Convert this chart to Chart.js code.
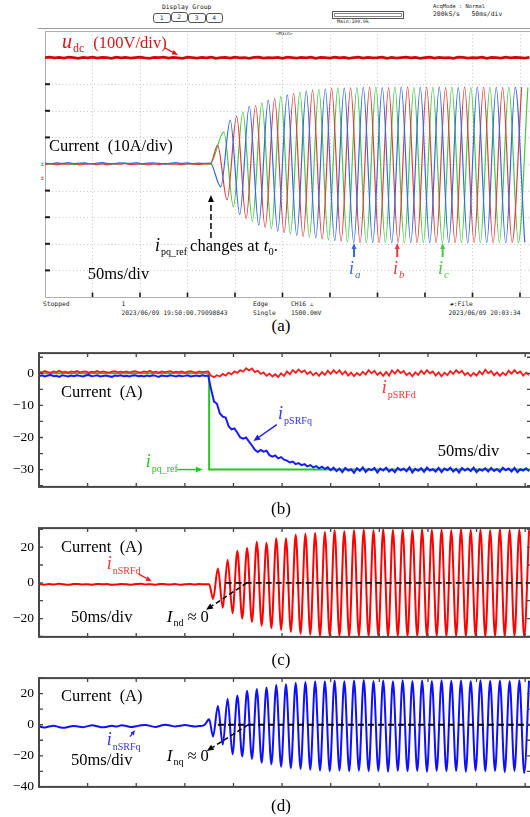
<!DOCTYPE html>
<html>
<head>
<meta charset="utf-8">
<title>Current transient</title>
<script src="https://cdn.jsdelivr.net/npm/chart.js@4.4.1/dist/chart.umd.min.js"></script>
<style>
  body { margin: 0; background: #fff; }
  #page { position: relative; width: 530px; height: 817px; overflow: hidden; background: #fff; }
  #page canvas { position: absolute; left: 0; }
  .m { position: absolute; font-family: "DejaVu Sans Mono", monospace; font-size: 6.3px; line-height: 1; color: #222; white-space: pre; }
  .btn { position: absolute; top: 12.7px; width: 15.5px; height: 8px; border: 1px solid #555; border-radius: 3px;
         font-family: "DejaVu Sans Mono", monospace; font-size: 6.3px; line-height: 8px; text-align: center; color: #235; }
  .cap { position: absolute; left: 0; width: 562px; text-align: center; font-family: "Liberation Serif", serif; font-size: 17px; line-height: 17px; }
</style>
</head>
<body>
<div id="page">
  <!-- 示波器顶部信息 -->
  <div class="m" style="left:162px;top:4px">Display Group</div>
  <div class="btn" style="left:153px">1</div>
  <div class="btn" style="left:170.5px;border-width:1.6px;top:12.1px">2</div>
  <div class="btn" style="left:188px">3</div>
  <div class="btn" style="left:205.5px">4</div>
  <div style="position:absolute;left:332px;top:10.7px;width:70px;height:6px;border:1px solid #555;">
    <div style="margin:1px;height:2px;border:1px solid #888"></div>
  </div>
  <div class="m" style="left:337px;top:19.5px;font-size:4.8px">Main:100.0k</div>
  <div class="m" style="left:433px;top:4px;font-size:5.4px">AcqMode : Normal</div>
  <div class="m" style="left:433px;top:10.5px;font-size:6.4px">200kS/s   50ms/div</div>
  <div style="position:absolute;left:38px;top:28px;width:492px;height:1px;background:#9a9a9a"></div>
  <div class="m" style="left:276px;top:32px;font-size:4.6px">&lt;Main&gt;</div>

  <canvas id="cA" width="540" height="300" style="top:0"></canvas>

  <!-- 示波器底部信息 -->
  <div class="m" style="left:43px;top:300.5px">Stopped</div>
  <div class="m" style="left:121.5px;top:300.5px">1</div>
  <div class="m" style="left:121.5px;top:309.5px">2023/06/09 19:50:00.79098843</div>
  <div class="m" style="left:253px;top:300.5px">Edge</div>
  <div class="m" style="left:253px;top:309.5px">Single</div>
  <div class="m" style="left:291px;top:300.5px">CH16 ⥿</div>
  <div class="m" style="left:291px;top:309.5px">1500.0mV</div>
  <div class="m" style="left:450px;top:300.5px">▰:File</div>
  <div class="m" style="left:448.5px;top:309.5px">2023/06/09 20:03:34</div>
  <div class="cap" style="top:316.5px">(a)</div>

  <canvas id="cB" width="540" height="160" style="top:340px"></canvas>
  <div class="cap" style="top:499.5px">(b)</div>
  <canvas id="cC" width="540" height="135" style="top:515px"></canvas>
  <div class="cap" style="top:650.5px">(c)</div>
  <canvas id="cD" width="540" height="135" style="top:665px"></canvas>
  <div class="cap" style="top:796.5px">(d)</div>
</div>

<script>
// ---------- 数据 (时间 ms) ----------

// (a) 示波器: 三相电流 (A, 10A/div), 直流电压 (V, 100V/div)
const iaPre = [0.3,0.1,0.4,0.2,0.5,0.1,0.3,0.4,0.0,0.3,0.5,0.2,0.1,0.4,0.3,0.2,0.5,0.1,0.3,0.4,0.2,0.0,0.3,0.5,0.2,0.4,0.1,0.3,0.2,0.3];
const ibPre = [-0.2,0.1,-0.3,0.0,-0.1,0.2,-0.3,-0.1,0.1,-0.2,0.0,-0.3,0.1,-0.1,0.2,-0.2,-0.1,0.1,-0.3,0.0,-0.2,0.2,-0.1,0.0,-0.3,0.1,-0.1,-0.2,0.1,0.0];
const icPre = [0.1,-0.1,0.2,0.0,0.1,-0.2,0.0,0.2,0.1,-0.1,0.2,0.0,-0.1,0.1,0.2,0.0,0.1,-0.2,0.1,0.0,0.2,-0.1,0.1,0.0,0.1,-0.1,0.2,0.1,0.0,0.1];
// 阶跃后的波峰/波谷, 每半个周期 (10 ms) 一个
const iaExt = [-8.6,16.5,-19,21.8,-23,24,-25.2,26,-26.8,27.4,-27.8,28.2,-28.8,28.5,-29.6,28.8,-29.5,28.7,-29.6,28.9,-29.5,28.8,-29.6,28.9,-29.5,28.7,-29.6,28.9,-29.5,28.8,-29.6,28.9,-29.5];
const ibExt = [7,-13.5,18,-20.5,22,-23.8,24.5,-25.8,26.5,-27.2,27.8,-28.2,28.4,-29,28.6,-29.5,28.8,-29.6,28.7,-29.5,28.9,-29.6,28.8,-29.5,28.7,-29.6,28.9,-29.5,28.8,-29.6,28.7,-29.5,28.9];
const icExt = [12,-16,19.5,-21.5,23,-24.3,25.3,-26.3,27,-27.5,28,-28.5,28.6,-29.3,28.7,-29.6,28.8,-29.5,28.9,-29.6,28.7,-29.5,28.8,-29.6,28.9,-29.5,28.7,-29.6,28.8,-29.5,28.9,-29.6,28.8];
const udc = [400,402,399,401,398,402,400,397,401,399,402,398,401,400,397,402,399,401,398,400,402,399,397,401,400,402,398,401,399,397,
             402,400,398,401,399,402,397,400,401,398,402,399,400,397,401,402,398,400,399,401,397,402,400,398,401,399,402,397,401,400,
             398,402,399,401,397,400,402,398,401,399,400,402,397,401,398,400,402,399,401,397,400,402,398,401,399,400,397,402,401,398,
             400,399,402,397,401,400,398,402,399,401,400,398,401];

// (b) 正序 dq 电流 (A)
const pdPre = [0.5,0.3,0.7,0.4,0.2,0.6,0.4,0.8,0.3,0.5,0.2,0.6,0.4,0.7,0.3,0.5,0.6,0.2,0.5,0.4,0.7,0.3,0.6,0.4,0.2,0.5,0.7,0.3,0.5,0.4,
               0.6,0.2,0.5,0.7,0.4,0.3,0.6,0.4,0.8,0.3,0.5,0.2,0.6,0.4,0.5,0.7,0.3,0.5,0.4,0.6,0.2,0.5,0.7,0.4,0.3,0.6,0.4,0.5,0.6];
const pdPost = [-0.8,-1.2,-0.6,-1.0,-0.2,-0.7,0.2,-0.3,0.6,0.1,1.0,0.5,1.6,0.9,1.5,0.4,0.8,-0.2,0.3,-0.8,-0.1,-1.0,-0.3,-1.2,0.0,-0.8,0.6,-0.3,1.0,0.2,
                1.2,0.3,0.9,-0.2,0.5,-0.6,0.2,-0.8,0.4,-0.5,0.8,-0.2,1.0,0.0,0.9,-0.3,0.6,-0.7,0.2,-0.9,0.1,-0.6,0.5,-0.4,1.0,0.0,0.8,-0.5,0.3,-0.8,
                0.4,-0.7,0.9,-0.1,1.1,0.1,0.7,-0.6,0.2,-0.9,0.3,-0.5,0.8,-0.2,1.0,0.0,0.6,-0.7,0.3,-0.9,0.2,-0.6,0.7,-0.2,1.0,0.1,0.8,-0.5,0.2,-0.9,
                0.1,-0.7,0.6,-0.3,1.1,0.0,0.7,-0.6,0.3,-0.8,0.2,-0.6,0.8,-0.1,1.0,0.0,0.6,-0.7,0.2,-0.5];
const pqPre = [-0.9,-0.6,-1.0,-0.7,-0.5,-0.9,-0.8,-1.1,-0.6,-0.8,-1.0,-0.7,-0.9,-0.6,-0.8,-1.0,-0.7,-0.5,-0.9,-0.8,-0.6,-1.0,-0.8,-0.7,-0.9,-1.1,-0.7,-0.8,-0.6,-0.9,
               -0.8,-1.0,-0.7,-0.6,-0.9,-0.8,-1.0,-0.7,-0.9,-0.6,-0.8,-1.1,-0.7,-0.8,-0.9,-0.6,-0.8,-1.0,-0.7,-0.9,-0.8,-0.6,-1.0,-0.8,-0.7,-0.9,-0.6,-0.8,-0.7];
const pqPost = [-5.0,-8.8,-9.5,-12.5,-13.5,-13.8,-16.5,-17.5,-17.2,-18.5,-20.0,-20.4,-20.0,-21.3,-22.5,-23.8,-24.5,-23.9,-24.4,-24.1,
                -25.5,-26.0,-25.6,-26.5,-26.1,-26.9,-27.2,-27.8,-27.5,-28.3,-28.0,-28.6,-28.3,-29.0,-28.6,-29.3,-28.9,-29.6,-29.1,-29.8,-29.3,-30.2,
                -29.4,-30.5,-29.7,-30.8,-29.5,-30.3,-29.9,-31.0,-29.6,-30.4,-29.3,-30.7,-29.8,-30.2,-29.5,-30.9,-29.7,-30.3,-29.4,-30.6,-29.9,-30.8,
                -29.5,-30.2,-29.7,-30.5,-29.3,-30.9,-29.8,-30.4,-29.6,-30.7,-29.4,-30.3,-29.9,-30.6,-29.5,-30.8,-29.7,-30.2,-29.4,-30.6,-29.8,-30.9,
                -29.5,-30.3,-29.7,-30.5,-29.4,-30.8,-29.9,-30.3,-29.6,-30.6,-29.5,-30.4,-29.8,-30.7,-29.4,-30.2,-29.7,-30.6,-29.5,-30.8,-29.9,-30.3,
                -29.6,-30.5];
const refT = [0, 175, 175, 506];
const refV = [0, 0, -30, -30];

// (c) 负序 d 轴电流 (A)
const ndPre = [-0.6,-1.0,-0.7,-0.9,-0.5,-0.8,-1.1,-0.7,-0.6,-0.9,-0.8,-1.0,-0.6,-0.8,-0.7,-1.1,-0.9,-0.6,-0.8,-1.0,-0.7,-0.5,-0.9,-0.8,-1.0,-0.6,-0.8,-0.9,-0.7,-1.0,-0.8,-0.6,-0.9,-0.7,-0.8,-0.8];
const ndExt = [-9,8,-14,13,-17,18,-20,19.5,-22,23,
               -24,22.5,-25.5,25,-26.5,25,-27.5,27,-28.5,27.5,
               -29,28,-30,28.5,-30,29.5,-30,29,-30.2,29.5,
               -30,29.8,-30.2,29.5,-30,30,-30.2,29.6,-30,29.8,
               -30.2,29.5,-30,30,-30.2,29.6,-30,29.8,-30.2,29.5,
               -30,30,-30.2,29.6,-30,29.8,-30.2,29.5,-30,30,
               -30.2,29.6,-30,29.8,-30.2,29.5];
const ndZeroT = [192, 506];

// (d) 负序 q 轴电流 (A)
const nqPre = [-1.0,-1.8,-1.2,-0.6,-1.4,-2.0,-1.5,-0.8,-1.1,-1.6,-0.9,-0.4,-1.0,-1.7,-1.3,-0.7,-1.2,-0.3,-0.8,-1.5,-1.0,-0.4,-0.2,-0.9,-1.4,-0.6,0.0,-0.5,-1.1,-0.7,-0.2,-0.6,-1.2,-0.8,-0.3,3.5];
const nqExt = [-7.6,12,-12.8,16.7,-19,18.8,-20.4,21.9,-22,23,
               -24.5,24,-25.5,25.5,-27,26,-28,27,-28.5,27.5,
               -29,28,-29.5,28,-30,28.5,-29.5,28,-30,28.5,
               -29.5,28.8,-30,28.2,-29.8,28.5,-30.2,28,-29.6,28.6,
               -30,28.2,-29.8,28.5,-30.3,28.1,-29.7,28.6,-30,28.3,
               -29.8,28.5,-30.2,28.1,-29.6,28.6,-30,28.3,-29.8,28.5,
               -30.5,28.2,-29.8,28.6,-31,28.4];
const nqZeroT = [184, 506];
const zeroV = [0, 0];

// ---------- 工具 ----------
const SERIF = '"Liberation Serif", "Times New Roman", serif';
Chart.defaults.font.family = SERIF;
Chart.defaults.animation = false;

// 等间隔采样 -> {x, y}
function series(start, step, vals) {
  return vals.map((v, i) => ({ x: start + step * i, y: v }));
}
function pairs(ts, vs) {
  return vs.map((v, i) => ({ x: ts[i], y: v }));
}
function fmt(v) {
  return v < 0 ? '\u2212' + Math.abs(v) : String(v);
}

function arrow(ctx, x1, y1, x2, y2, color, dash, w, head) {
  const ang = Math.atan2(y2 - y1, x2 - x1);
  const bx = x2 - head * Math.cos(ang), by = y2 - head * Math.sin(ang);
  const hw = head * 0.42;
  ctx.save();
  ctx.strokeStyle = color; ctx.fillStyle = color; ctx.lineWidth = w;
  ctx.setLineDash(dash || []);
  ctx.beginPath(); ctx.moveTo(x1, y1); ctx.lineTo(bx, by); ctx.stroke();
  ctx.setLineDash([]);
  ctx.beginPath();
  ctx.moveTo(x2, y2);
  ctx.lineTo(bx + hw * Math.sin(ang), by - hw * Math.cos(ang));
  ctx.lineTo(bx - hw * Math.sin(ang), by + hw * Math.cos(ang));
  ctx.closePath(); ctx.fill();
  ctx.restore();
}

// 标注: 位置用数据坐标
function drawNotes(chart, notes) {
  const { ctx } = chart;
  const xs = chart.scales.x, ys = chart.scales.y;
  (notes || []).forEach(n => {
    const color = n.color || '#000';
    if (n.arrow) {
      const [t1, v1, t2, v2] = n.arrow;
      arrow(ctx, xs.getPixelForValue(t1), ys.getPixelForValue(v1),
            xs.getPixelForValue(t2), ys.getPixelForValue(v2), color, n.dash, n.width || 1.5, n.head || 6);
      return;
    }
    let x = xs.getPixelForValue(n.t);
    const y = ys.getPixelForValue(n.v);
    ctx.save();
    ctx.fillStyle = color;
    ctx.textBaseline = 'alphabetic';
    ctx.textAlign = 'left';
    n.parts.forEach(p => {
      x += p.gap || 0;
      ctx.font = p.f + ' ' + SERIF;
      ctx.fillText(p.t, x, y + (p.dy || 0));
      x += ctx.measureText(p.t).width;
    });
    ctx.restore();
  });
}

// 示波器网格
const scopeGrid = {
  id: 'scopeGrid',
  beforeDatasetsDraw(chart) {
    const { ctx, chartArea: a, scales: { x, y } } = chart;
    ctx.save();
    ctx.strokeStyle = '#c8c8c8'; ctx.lineWidth = 1; ctx.setLineDash([1, 2.5]);
    for (let t = 50; t < x.max; t += 50) {
      const px = Math.round(x.getPixelForValue(t)) + 0.5;
      ctx.beginPath(); ctx.moveTo(px, a.top); ctx.lineTo(px, a.bottom); ctx.stroke();
    }
    for (let v = -40; v <= 40; v += 10) {
      const py = Math.round(y.getPixelForValue(v)) + 0.5;
      ctx.beginPath(); ctx.moveTo(a.left, py); ctx.lineTo(a.right, py); ctx.stroke();
    }
    ctx.setLineDash([]);
    ctx.strokeStyle = '#b0b0b0';
    ctx.beginPath();
    ctx.moveTo(a.left + 0.5, a.top); ctx.lineTo(a.left + 0.5, a.bottom + 0.5); ctx.lineTo(a.right, a.bottom + 0.5);
    ctx.moveTo(a.left, a.top + 0.5); ctx.lineTo(a.right, a.top + 0.5);
    ctx.stroke();
    ctx.restore();
  },
  afterDatasetsDraw(chart, args, o) {
    const { ctx, chartArea: a, scales: { x, y } } = chart;
    ctx.save();
    ctx.strokeStyle = '#1a1a1a'; ctx.lineWidth = 2;
    [30, 20, 10, -10, -20, -30, -40].forEach(v => {
      const py = y.getPixelForValue(v);
      ctx.beginPath(); ctx.moveTo(a.left, py); ctx.lineTo(a.left + 5, py); ctx.stroke();
    });
    ctx.lineWidth = 1.6;
    for (let t = 50; t < x.max; t += 50) {
      const px = x.getPixelForValue(t);
      ctx.beginPath(); ctx.moveTo(px, a.bottom - 4.5); ctx.lineTo(px, a.bottom); ctx.stroke();
    }
    // 通道标记
    ctx.font = 'bold 6px "DejaVu Sans Mono"';
    ctx.textAlign = 'right'; ctx.textBaseline = 'middle';
    ctx.fillStyle = '#3fbf3f'; ctx.fillText('ɪ', a.left - 1, y.getPixelForValue(0));
    ctx.fillStyle = '#e06060'; ctx.fillText('ɪ', a.left - 1, y.getPixelForValue(-5.3));
    ctx.restore();
    drawNotes(chart, o.notes);
  }
};

// 边框、内向刻度和标注
const framePlugin = {
  id: 'frame',
  afterDatasetsDraw(chart, args, o) {
    const { ctx, chartArea: a, scales: { x, y } } = chart;
    ctx.save();
    ctx.strokeStyle = '#474747'; ctx.lineWidth = 1.3;
    for (let t = o.xStep; t < x.max; t += o.xStep) {
      const px = x.getPixelForValue(t);
      ctx.beginPath();
      ctx.moveTo(px, a.top); ctx.lineTo(px, a.top + 4);
      ctx.moveTo(px, a.bottom); ctx.lineTo(px, a.bottom - 4);
      ctx.stroke();
    }
    for (let v = Math.ceil(y.min / o.yStep) * o.yStep; v <= y.max; v += o.yStep) {
      const py = y.getPixelForValue(v);
      ctx.beginPath();
      ctx.moveTo(a.left, py); ctx.lineTo(a.left + 4, py);
      ctx.moveTo(a.right, py); ctx.lineTo(a.right - 4, py);
      ctx.stroke();
    }
    ctx.lineWidth = 2;
    ctx.strokeRect(a.left, a.top, a.width, a.height);
    ctx.restore();
    drawNotes(chart, o.notes);
  }
};

function line(data, color, width, extra) {
  return Object.assign({ data, borderColor: color, borderWidth: width, pointRadius: 0, fill: false, tension: 0 }, extra || {});
}

function panelOptions(yMin, yMax, yLabelStep, labelEvery, pad, frameOpts) {
  return {
    responsive: false,
    devicePixelRatio: 1,
    animation: false,
    layout: { padding: pad },
    plugins: { legend: { display: false }, tooltip: { enabled: false }, frame: frameOpts },
    scales: {
      x: { type: 'linear', min: 0, max: 506, display: false },
      y: {
        type: 'linear', min: yMin, max: yMax,
        afterFit: s => { s.width = 39; },
        grid: { display: false, drawTicks: false },
        border: { display: false },
        ticks: {
          stepSize: yLabelStep, includeBounds: false, autoSkip: false, padding: 5,
          color: '#000', font: { size: 13.5, family: SERIF },
          callback: v => (Math.round(v) % labelEvery === 0 ? fmt(Math.round(v)) : '')
        }
      }
    }
  };
}

// ---------- (a) 示波器 ----------
const blueA = 'rgb(55,105,225)', redA = 'rgb(222,62,62)', greenA = 'rgb(70,200,70)';
const notesA = [
  { t: 17.9, v: 43.6, color: '#d01818', parts: [{ t: 'u', f: 'italic 20px' }, { t: 'dc', f: '12px', dy: 4, gap: 1 }, { t: '(100V/div)', f: '16.5px', gap: 9 }] },
  { arrow: [126.3, 43.6, 140, 41], color: '#d01818', width: 1.3, head: 6 },
  { t: 4.2, v: 4.9, parts: [{ t: 'Current  (10A/div)', f: '16.5px' }] },
  { arrow: [174.7, -27.8, 174.7, -11.7], dash: [6, 3], width: 1.5, head: 7 },
  { t: 115.8, v: -32.7, parts: [{ t: 'i', f: 'italic 18px' }, { t: 'pq_ref', f: '10px', dy: 4, gap: 1 }, { t: 'changes at', f: '16.5px', gap: 3 },
                                { t: 't', f: 'italic 17px', gap: 4.5 }, { t: '0', f: '10.5px', dy: 4 }, { t: '.', f: '16.5px' }] },
  { t: 45, v: -43.2, parts: [{ t: '50ms/div', f: '16.5px' }] },
  { arrow: [325.3, -35, 325.3, -29.7], color: blueA, width: 2, head: 6 },
  { arrow: [370.8, -35, 370.8, -29.7], color: redA, width: 2, head: 6 },
  { arrow: [418.6, -35, 418.6, -29.7], color: greenA, width: 2, head: 6 },
  { t: 320, v: -41.4, color: blueA, parts: [{ t: 'i', f: 'italic 18px' }, { t: 'a', f: 'italic 11px', dy: 4, gap: 1 }] },
  { t: 366.3, v: -41.4, color: redA, parts: [{ t: 'i', f: 'italic 18px' }, { t: 'b', f: 'italic 11px', dy: 4, gap: 1 }] },
  { t: 413.7, v: -41.4, color: greenA, parts: [{ t: 'i', f: 'italic 18px' }, { t: 'c', f: 'italic 11px', dy: 4, gap: 1 }] }
];

new Chart(document.getElementById('cA'), {
  type: 'line',
  data: {
    datasets: [
      line(series(0, 5, udc), 'rgb(205,10,10)', 2.8, { yAxisID: 'yv' }),
      line(series(0, 6, iaPre).concat(series(185, 10, iaExt)), blueA, 1.2, { cubicInterpolationMode: 'monotone' }),
      line(series(0, 6, ibPre).concat(series(181.7, 10, ibExt)), redA, 1.2, { cubicInterpolationMode: 'monotone' }),
      line(series(0, 6, icPre).concat(series(188.3, 10, icExt)), greenA, 1.2, { cubicInterpolationMode: 'monotone' })
    ]
  },
  options: {
    responsive: false,
    devicePixelRatio: 1,
    animation: false,
    layout: { padding: { left: 45, top: 31, right: 9, bottom: 3 } },
    plugins: { legend: { display: false }, tooltip: { enabled: false }, scopeGrid: { notes: notesA } },
    scales: {
      x: { type: 'linear', min: 0, max: 511.6, display: false },
      y: { type: 'linear', min: -50, max: 50, display: false },
      yv: { type: 'linear', min: -500, max: 500, display: false }
    }
  },
  plugins: [scopeGrid]
});

// ---------- (b) ----------
const redB = '#ff1a1a', blueB = '#1a1aff', greenB = '#22c822';
const notesB = [
  { t: 22.6, v: -7.3, parts: [{ t: 'Current  (A)', f: '16.5px' }] },
  { t: 352.6, v: -6.1, color: '#ff3030', parts: [{ t: 'i', f: 'italic 18px' }, { t: 'pSRFd', f: '10px', dy: 5, gap: 1 }] },
  { t: 245.9, v: -14.1, color: '#3030ff', parts: [{ t: 'i', f: 'italic 18px' }, { t: 'pSRFq', f: '10px', dy: 5, gap: 1 }] },
  { arrow: [244.5, -16.0, 220.5, -21.1], color: blueB, width: 1.5, head: 7 },
  { t: 410.2, v: -25.65, parts: [{ t: '50ms/div', f: '16.5px' }] },
  { t: 109.8, v: -29.3, color: greenB, parts: [{ t: 'i', f: 'italic 18px' }, { t: 'pq_ref', f: '10px', dy: 4.5, gap: 1 }] },
  { arrow: [141.7, -30, 168.4, -30], color: greenB, width: 1.5, head: 7 }
];
new Chart(document.getElementById('cB'), {
  type: 'line',
  data: {
    datasets: [
      line(series(0, 3, pqPre).concat(series(177, 3, pqPost)), blueB, 2),
      line(series(0, 3, pdPre).concat(series(177, 3, pdPost)), redB, 1.8),
      line(pairs(refT, refV), greenB, 2)
    ]
  },
  options: panelOptions(-35.4, 6.3, 10, 10, { left: 0, top: 8, right: 9, bottom: 11 }, { xStep: 50, yStep: 5, notes: notesB }),
  plugins: [framePlugin]
});

// ---------- (c) ----------
const notesC = [
  { t: 22.6, v: 17.2, parts: [{ t: 'Current  (A)', f: '16.5px' }] },
  { t: 69.7, v: 7.5, color: '#ff3030', parts: [{ t: 'i', f: 'italic 18px' }, { t: 'nSRFd', f: '10px', dy: 5, gap: 1 }] },
  { arrow: [102.2, 5.0, 116, 0.85], color: '#ff2020', width: 1.3, head: 6 },
  { t: 32.9, v: -22.2, parts: [{ t: '50ms/div', f: '16.5px' }] },
  { t: 131.4, v: -21.7, parts: [{ t: 'I', f: 'italic 17px' }, { t: 'nd', f: '10px', dy: 4, gap: 1 }, { t: '\u2248 0', f: '16.5px', gap: 4 }] },
  { arrow: [213.7, 0, 171.8, -15.1], dash: [5, 3], width: 1.5, head: 7 }
];
new Chart(document.getElementById('cC'), {
  type: 'line',
  data: {
    datasets: [
      line(pairs(ndZeroT, zeroV), '#000', 1.8, { borderDash: [6, 4] }),
      line(series(0, 5, ndPre).concat(series(179, 5, ndExt)), '#ff0000', 2, { cubicInterpolationMode: 'monotone' })
    ]
  },
  options: panelOptions(-30.3, 30.7, 10, 20, { left: 0, top: 10.7, right: 9, bottom: 10 }, { xStep: 50, yStep: 10, notes: notesC }),
  plugins: [framePlugin]
});

// ---------- (d) ----------
const notesD = [
  { t: 22.6, v: 15.5, parts: [{ t: 'Current  (A)', f: '16.5px' }] },
  { t: 69.7, v: -12.8, color: '#3030ff', parts: [{ t: 'i', f: 'italic 18px' }, { t: 'nSRFq', f: '10px', dy: 5, gap: 1 }] },
  { arrow: [93.6, -7.7, 98.8, -3.5], color: '#2020ff', width: 1.3, head: 5 },
  { t: 32.9, v: -26.2, parts: [{ t: '50ms/div', f: '16.5px' }] },
  { t: 131.4, v: -23.1, parts: [{ t: 'I', f: 'italic 17px' }, { t: 'nq', f: '10px', dy: 4, gap: 1 }, { t: '\u2248 0', f: '16.5px', gap: 4 }] },
  { arrow: [215.3, 0, 172.5, -16.9], dash: [5, 3], width: 1.5, head: 7 }
];
new Chart(document.getElementById('cD'), {
  type: 'line',
  data: {
    datasets: [
      line(pairs(nqZeroT, zeroV), '#000', 1.8, { borderDash: [6, 4] }),
      line(series(0, 5, nqPre).concat(series(179, 5, nqExt)), '#1010ff', 2, { cubicInterpolationMode: 'monotone' })
    ]
  },
  options: panelOptions(-40, 30, 10, 20, { left: 0, top: 11, right: 9, bottom: 10.7 }, { xStep: 50, yStep: 10, notes: notesD }),
  plugins: [framePlugin]
});
</script>
</body>
</html>
